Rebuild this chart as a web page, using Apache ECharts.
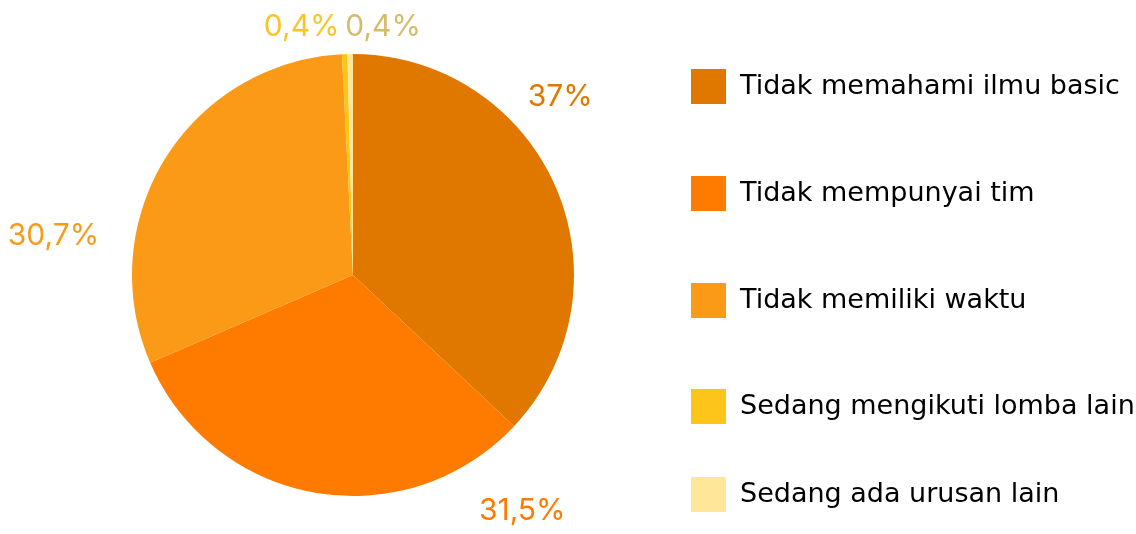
<!DOCTYPE html>
<html>
<head>
<meta charset="utf-8">
<script src="https://cdn.jsdelivr.net/npm/echarts@6/dist/echarts.min.js"></script>
<style>
  html, body { margin: 0; padding: 0; background: #fff; }
  #main { width: 1136px; height: 534px; }
</style>
</head>
<body>
<div id="main"></div>
<script>
// data
var categories = ['Tidak memahami ilmu basic', 'Tidak mempunyai tim', 'Tidak memiliki waktu', 'Sedang mengikuti lomba lain', 'Sedang ada urusan lain'];
var values = [37, 31.5, 30.7, 0.4, 0.4];
var labels = ['37%', '31,5%', '30,7%', '0,4%', '0,4%'];
var sliceColors = ['#E07800', '#FF7B00', '#FA9A17', '#FDC51A', '#FFE699'];
var labelColors = ['#E07800', '#FF7B00', '#F99A1A', '#FBC32A', '#D4BC6A'];

// label placement: [angle from 12 o'clock clockwise (deg), distance from centre]
var labelPolar = [[49.4, 273], [144.3, 290], [277.4, 302], [348.3, 253], [6.9, 250]];
// legend rows are not evenly spaced in the original
var legendTops = [69, 176, 283, 389, 477];

var cx = 353, cy = 275, r = 221;

var myChart = echarts.init(document.getElementById('main'));

var option = {
    backgroundColor: '#ffffff',
    // one legend per row so every row sits where it does in the original
    legend: categories.map(function(c, i) {
        return {
            orient: 'vertical',
            left: 691,
            top: legendTops[i],
            padding: 0,
            itemWidth: 35,
            itemHeight: 35,
            icon: 'rect',
            selectedMode: false,
            textStyle: {
                fontFamily: 'DejaVu Sans',
                fontSize: 27,
                color: '#000',
                padding: [5, 0, 0, 9]
            },
            data: [c]
        };
    }),
    series: [{
        type: 'pie',
        center: [cx, cy],
        radius: r,
        startAngle: 90,
        clockwise: true,
        animation: false,
        avoidLabelOverlap: false,
        label: {
            show: true,
            position: 'outside',
            fontFamily: 'Inter',
            fontSize: 30,
            formatter: function(p) { return labels[p.dataIndex]; }
        },
        labelLine: { show: false },
        labelLayout: function(p) {
            var a = labelPolar[p.dataIndex][0] * Math.PI / 180;
            var d = labelPolar[p.dataIndex][1];
            return {
                x: cx + d * Math.sin(a),
                y: cy - d * Math.cos(a),
                align: 'center',
                verticalAlign: 'middle'
            };
        },
        emphasis: { disabled: true },
        data: categories.map(function(c, i) {
            return {
                name: c,
                value: values[i],
                itemStyle: { color: sliceColors[i] },
                label: { color: labelColors[i] }
            };
        })
    }]
};

myChart.setOption(option);
</script>
</body>
</html>
